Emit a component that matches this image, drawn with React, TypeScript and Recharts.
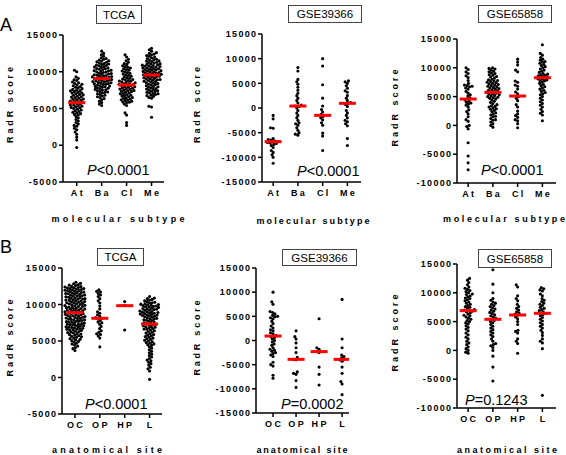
import React from 'react';
import { ScatterChart, Scatter, XAxis, YAxis } from 'recharts';

const W = 566;
const H = 455;
const FONT = "'Liberation Sans', Arial, Helvetica, sans-serif";

// ---------- categories ----------
const subtypeLabels = ['At', 'Ba', 'Cl', 'Me'];
const siteLabels = ['OC', 'OP', 'HP', 'L'];

// ---------- tick values ----------
const ticksTcga = [-5000, 0, 5000, 10000, 15000];
const ticks39366 = [-15000, -10000, -5000, 0, 5000, 10000, 15000];
const ticks65858 = [-10000, -5000, 0, 5000, 10000, 15000];

// ---------- A: TCGA, molecular subtype ----------
const aTcgaAt = [10200, 10000, 9300, 9100, 8900, 8800, 8600, 8500, 8400, 8300, 8200, 8100, 8000, 7900, 7800, 7700, 7600, 7500, 7450, 7400, 7300, 7200, 7150, 7100, 7000, 6900, 6850, 6800, 6700, 6600, 6550, 6500, 6400, 6300, 6250, 6200, 6100, 6000, 5950, 5900, 5800, 5750, 5700, 5600, 5500, 5450, 5400, 5300, 5200, 5150, 5100, 5000, 4900, 4800, 4700, 4600, 4500, 4400, 4300, 4200, 4100, 3900, 3700, 3500, 3300, 3100, 2900, 2700, 2600, 2300, 2100, 1800, 1500, 1100, 700, -300];
const aTcgaBa = [12800, 12500, 12300, 12100, 11900, 11800, 11700, 11600, 11500, 11450, 11350, 11300, 11200, 11100, 11050, 11000, 10900, 10850, 10800, 10700, 10650, 10600, 10500, 10450, 10400, 10350, 10300, 10200, 10150, 10100, 10050, 10000, 9950, 9900, 9800, 9750, 9700, 9650, 9600, 9550, 9500, 9450, 9400, 9350, 9300, 9250, 9200, 9150, 9100, 9050, 9000, 8950, 8900, 8850, 8800, 8750, 8700, 8650, 8600, 8550, 8500, 8450, 8400, 8350, 8300, 8250, 8200, 8100, 8050, 8000, 7950, 7900, 7800, 7750, 7700, 7600, 7550, 7500, 7400, 7300, 7250, 7200, 7100, 7000, 6900, 6800, 6700, 6600, 6500, 6350, 6200, 6000, 5800, 5600, 5400];
const aTcgaCl = [12300, 12000, 11700, 11500, 11300, 11100, 11000, 10800, 10700, 10600, 10500, 10400, 10300, 10200, 10100, 10000, 9900, 9800, 9700, 9600, 9500, 9400, 9300, 9200, 9100, 9000, 8950, 8900, 8800, 8750, 8700, 8600, 8550, 8500, 8400, 8350, 8300, 8250, 8200, 8150, 8100, 8000, 7950, 7900, 7800, 7750, 7700, 7650, 7600, 7500, 7450, 7400, 7350, 7300, 7200, 7100, 7050, 7000, 6900, 6800, 6750, 6700, 6600, 6500, 6450, 6400, 6300, 6200, 6150, 6100, 6000, 5900, 5850, 5800, 5600, 5400, 4400, 4100, 3100, 2700];
const aTcgaMe = [13200, 13000, 12800, 12600, 12500, 12400, 12300, 12200, 12100, 12000, 11900, 11800, 11700, 11650, 11600, 11500, 11450, 11400, 11300, 11250, 11200, 11100, 11050, 11000, 10950, 10900, 10850, 10800, 10750, 10700, 10650, 10600, 10550, 10500, 10450, 10400, 10350, 10300, 10250, 10200, 10150, 10100, 10050, 10000, 9950, 9900, 9850, 9800, 9750, 9700, 9650, 9600, 9550, 9500, 9450, 9400, 9350, 9300, 9250, 9200, 9100, 9050, 9000, 8950, 8900, 8850, 8800, 8700, 8650, 8600, 8500, 8450, 8400, 8300, 8250, 8200, 8100, 8000, 7950, 7900, 7800, 7700, 7650, 7600, 7500, 7400, 7350, 7300, 7200, 7100, 7050, 7000, 6900, 6800, 6750, 6650, 6500, 6400, 5300, 5200, 3800];
const aTcgaMedians = [5790, 9060, 8200, 9560];

// ---------- A: GSE39366, molecular subtype ----------
const a39366At = [-1500, -2200, -4000, -4100, -6200, -6400, -6500, -6700, -6800, -6900, -7000, -7100, -7200, -7400, -7600, -8000, -8600, -9000, -9500, -10000, -11200];
const a39366Ba = [8200, 7500, 5800, 5300, 4800, 4200, 3600, 3000, 2500, 2000, 1500, 1000, 600, 400, 300, 0, -500, -1000, -1500, -2000, -2500, -3000, -3200, -3500, -4000, -4500, -5000, -5300, -5500];
const a39366Cl = [10000, 8500, 4700, 2000, 400, -300, -800, -1300, -1700, -2000, -2400, -3000, -3500, -5100, -5700, -8600];
const a39366Me = [5500, 5300, 5000, 4500, 4000, 3500, 3200, 2500, 2000, 1500, 1100, 900, 700, 300, -500, -1000, -1500, -2000, -2500, -2800, -3200, -3600, -6200, -7600];
const a39366Medians = [-6830, 400, -1490, 950];

// ---------- A: GSE65858, molecular subtype ----------
const a65858At = [10000, 9700, 9300, 9000, 8600, 8300, 7800, 7300, 7000, 6900, 6800, 6700, 6500, 6300, 5900, 5600, 5300, 5100, 4800, 4600, 4400, 4200, 4000, 3900, 3700, 3500, 3200, 2700, 2400, 2000, 1500, 1000, 700, 0, -200, -600, -3000, -5300, -6500, -7700];
const a65858Ba = [10000, 9900, 9800, 9600, 9400, 9300, 9100, 9000, 8800, 8700, 8500, 8400, 8200, 8000, 7900, 7800, 7700, 7600, 7500, 7400, 7300, 7200, 7100, 7000, 6900, 6800, 6700, 6600, 6500, 6400, 6300, 6200, 6100, 6000, 5900, 5800, 5700, 5600, 5500, 5400, 5300, 5200, 5100, 5000, 4900, 4800, 4700, 4600, 4400, 4200, 4000, 3800, 3600, 3400, 3300, 3200, 3000, 2900, 2800, 2600, 2400, 2200, 2000, 1800, 1600, 1500, 1200, 1000, 900, 600, 300, 0, -300];
const a65858Cl = [11500, 11000, 10500, 9600, 9300, 7700, 7500, 7000, 6800, 6300, 5800, 5500, 5000, 4700, 4300, 3600, 3200, 2500, 2000, 1700, 1400, 1000, 800, 300, -400];
const a65858Me = [14000, 12500, 12200, 11800, 11500, 11300, 11100, 11000, 10800, 10600, 10400, 10200, 10000, 9800, 9600, 9400, 9200, 9000, 8900, 8800, 8700, 8600, 8500, 8400, 8300, 8200, 8100, 8000, 7900, 7800, 7700, 7500, 7300, 7100, 6900, 6700, 6500, 6300, 6100, 5900, 5700, 5500, 5300, 5000, 4700, 4400, 4100, 3800, 3500, 3200, 2800, 2400, 2100, 1800, 800];
const a65858Medians = [4580, 5750, 5100, 8280];

// ---------- B: TCGA, anatomical site ----------
const bTcgaOC = [13050, 12900, 12850, 12700, 12650, 12600, 12480, 12450, 12400, 12330, 12300, 12250, 12200, 12170, 12100, 12050, 12000, 11960, 11900, 11870, 11800, 11760, 11700, 11650, 11620, 11550, 11500, 11470, 11400, 11360, 11300, 11260, 11200, 11150, 11120, 11050, 11000, 10970, 10900, 10860, 10800, 10750, 10720, 10650, 10600, 10570, 10500, 10460, 10400, 10360, 10300, 10250, 10220, 10150, 10100, 10070, 10000, 9960, 9900, 9860, 9800, 9750, 9720, 9650, 9600, 9570, 9500, 9460, 9400, 9360, 9300, 9250, 9220, 9150, 9100, 9070, 9000, 8960, 8900, 8860, 8800, 8750, 8720, 8650, 8600, 8570, 8500, 8460, 8400, 8360, 8300, 8250, 8220, 8150, 8100, 8070, 8000, 7960, 7900, 7860, 7800, 7750, 7720, 7650, 7600, 7570, 7500, 7460, 7400, 7360, 7300, 7250, 7220, 7150, 7100, 7070, 7000, 6960, 6900, 6860, 6800, 6750, 6720, 6650, 6600, 6550, 6500, 6430, 6350, 6300, 6220, 6150, 6100, 6020, 5950, 5880, 5800, 5720, 5650, 5570, 5500, 5400, 5330, 5250, 5150, 5050, 4950, 4850, 4700, 4600, 4450, 4300, 4100, 3950, 3700];
const bTcgaOP = [12000, 11800, 11700, 11500, 11300, 11100, 10800, 10500, 10200, 9800, 9400, 9000, 8800, 8600, 8400, 8200, 8100, 8000, 7800, 7600, 7500, 7300, 7000, 6700, 6400, 6200, 6000, 5900, 5700, 5400, 4200];
const bTcgaHP = [10400, 9850, 6500];
const bTcgaL = [11100, 10900, 10800, 10700, 10600, 10500, 10400, 10300, 10250, 10200, 10100, 10050, 10000, 9950, 9900, 9850, 9800, 9750, 9700, 9650, 9600, 9500, 9450, 9400, 9350, 9300, 9250, 9200, 9100, 9050, 9000, 8950, 8900, 8850, 8800, 8750, 8700, 8650, 8600, 8550, 8500, 8450, 8400, 8300, 8250, 8200, 8100, 8050, 8000, 7900, 7850, 7800, 7700, 7600, 7500, 7450, 7400, 7300, 7250, 7200, 7100, 7000, 6950, 6900, 6800, 6700, 6650, 6600, 6500, 6400, 6300, 6200, 6100, 6000, 5900, 5800, 5700, 5600, 5500, 5400, 5300, 5200, 5100, 5000, 4900, 4800, 4700, 4600, 4500, 4400, 4200, 4000, 3800, 3600, 3400, 3200, 3000, 2800, 2600, 2400, 2300, 2100, 1900, 1700, 1400, 1200, 900, -250];
const bTcgaMedians = [8880, 8110, 9840, 7330];

// ---------- B: GSE39366, anatomical site ----------
const b39366OC = [10000, 8000, 7500, 6000, 5800, 5500, 5200, 5000, 4900, 4700, 4500, 4000, 3500, 3000, 2600, 2200, 2000, 1600, 1400, 1000, 800, 600, 300, 0, -300, -700, -1000, -1500, -1800, -2000, -2200, -2500, -2700, -3000, -3300, -4500, -5000, -5300, -7200, -7800];
const b39366OP = [2000, 800, 300, -500, -1500, -2500, -3500, -3900, -4000, -6500, -6800, -7000, -8300, -9700];
const b39366HP = [4500, -1500, -1800, -2300, -2500, -5500, -7000, -9200];
const b39366L = [8500, 300, -1500, -3000, -3300, -3600, -3900, -4000, -4300, -5500, -6800, -8500, -9000, -11200];
const b39366Medians = [930, -3900, -2300, -3900];

// ---------- B: GSE65858, anatomical site ----------
const b65858OC = [12500, 12200, 11800, 11400, 11000, 10800, 10600, 10400, 10200, 10000, 9800, 9700, 9500, 9300, 9100, 9000, 8800, 8600, 8400, 8200, 8000, 7800, 7600, 7500, 7300, 7100, 7000, 6900, 6800, 6700, 6500, 6300, 6100, 6000, 5800, 5600, 5400, 5200, 5000, 4800, 4600, 4300, 4000, 3700, 3400, 3000, 2700, 2300, 2000, 1600, 1300, 1000, 600, 300, 0, -300, -500];
const b65858OP = [14000, 11500, 10000, 9000, 8700, 8400, 8200, 8000, 7800, 7600, 7400, 7200, 7000, 6800, 6600, 6400, 6200, 6000, 5800, 5600, 5400, 5200, 5000, 4800, 4500, 4200, 3900, 3600, 3300, 3000, 2700, 2400, 2000, 1600, 1200, 1000, 800, 500, 0, -1000, -2900, -5300];
const b65858HP = [11400, 11000, 9500, 9000, 8600, 8000, 7600, 7300, 7000, 6700, 6500, 6300, 6100, 5800, 5500, 5000, 4500, 3500, 3300, 3000, 2000, 1600, 1200, -500];
const b65858L = [10900, 10700, 10500, 10300, 9800, 9500, 9000, 8700, 8500, 8200, 8000, 7800, 7500, 7300, 7100, 6900, 6700, 6500, 6400, 6200, 6000, 5700, 5400, 5100, 4800, 4500, 4200, 3900, 3500, 3100, 2600, 2000, 1600, 1300, 300, -7800];
const b65858Medians = [6900, 5400, 6150, 6440];

// ---------- panel layout ----------
type Panel = {
  groups: number[][];
  medians: number[];
  labels: string[];
  yDomain: [number, number];
  yTicks: number[];
  xDomain: [number, number];
  axisX: number;
  xEnd: number;
  yTop: number;
  yBot: number;
};

const panels: Panel[] = [
  { groups: [aTcgaAt, aTcgaBa, aTcgaCl, aTcgaMe], medians: aTcgaMedians, labels: subtypeLabels, yDomain: [-5000, 15000], yTicks: ticksTcga, xDomain: [-0.55, 3.5], axisX: 63, xEnd: 164, yTop: 35, yBot: 182 },
  { groups: [a39366At, a39366Ba, a39366Cl, a39366Me], medians: a39366Medians, labels: subtypeLabels, yDomain: [-15000, 15000], yTicks: ticks39366, xDomain: [-0.45, 3.55], axisX: 262, xEnd: 361, yTop: 34, yBot: 182 },
  { groups: [a65858At, a65858Ba, a65858Cl, a65858Me], medians: a65858Medians, labels: subtypeLabels, yDomain: [-10000, 15000], yTicks: ticks65858, xDomain: [-0.45, 3.55], axisX: 457, xEnd: 556, yTop: 39, yBot: 183 },
  { groups: [bTcgaOC, bTcgaOP, bTcgaHP, bTcgaL], medians: bTcgaMedians, labels: siteLabels, yDomain: [-5000, 15000], yTicks: ticksTcga, xDomain: [-0.52, 3.5], axisX: 62, xEnd: 162, yTop: 268, yBot: 414 },
  { groups: [b39366OC, b39366OP, b39366HP, b39366L], medians: b39366Medians, labels: siteLabels, yDomain: [-15000, 15000], yTicks: ticks39366, xDomain: [-0.74, 3.3], axisX: 256, xEnd: 349, yTop: 268, yBot: 413 },
  { groups: [b65858OC, b65858OP, b65858HP, b65858L], medians: b65858Medians, labels: siteLabels, yDomain: [-10000, 15000], yTicks: ticks65858, xDomain: [-0.45, 3.55], axisX: 457, xEnd: 556, yTop: 264, yBot: 408 },
];

// beeswarm layout: horizontal pixel offsets so dots do not overlap
function swarm(vals: number[], pxPerVal: number, d: number, maxHalf: number): number[] {
  const order = vals.map((_, i) => i).sort((a, b) => vals[a] - vals[b]);
  const placed: { x: number; y: number }[] = [];
  const out = new Array(vals.length).fill(0);
  for (const i of order) {
    const y = vals[i] * pxPerVal;
    const near = placed.filter((p) => Math.abs(p.y - y) < d);
    const ints = near.map((p) => {
      const w = Math.sqrt(d * d - (p.y - y) * (p.y - y));
      return [p.x - w, p.x + w];
    });
    const cands = [0];
    ints.forEach(([a, b]) => cands.push(a, b));
    const ok = (c: number) => ints.every(([a, b]) => c <= a + 1e-6 || c >= b - 1e-6);
    let best = Infinity;
    for (const c of cands) if (ok(c) && Math.abs(c) < Math.abs(best)) best = c;
    if (!(Math.abs(best) <= maxHalf)) {
      let bestScore = -1;
      best = 0;
      for (let c = -maxHalf; c <= maxHalf + 1e-9; c += 0.5) {
        const s = near.reduce((m, p) => Math.min(m, Math.hypot(p.x - c, p.y - y)), Infinity);
        if (s > bestScore) {
          bestScore = s;
          best = c;
        }
      }
    }
    placed.push({ x: best, y });
    out[i] = best;
  }
  return out;
}

const Dot = (props: any) => <circle cx={props.cx} cy={props.cy} r={1.55} fill="#000" />;
const MedianBar = (props: any) => (
  <rect x={props.cx - 8.5} y={props.cy - 1.5} width={17} height={3} fill="#ff0000" />
);

const YTick = (props: any) => (
  <text x={props.x} y={props.y} dx={1.3} dy={3.2} textAnchor="end" fontSize={9} fontWeight="bold" fontFamily={FONT} letterSpacing={1.3} fill="#000">
    {props.payload.value}
  </text>
);

function PanelChart({ p }: { p: Panel }) {
  const plotH = p.yBot - p.yTop;
  const plotW = p.xEnd - p.axisX;
  const pxPerUnitX = plotW / (p.xDomain[1] - p.xDomain[0]);
  const pxPerVal = plotH / (p.yDomain[1] - p.yDomain[0]);
  const points: { x: number; y: number }[] = [];
  p.groups.forEach((g, i) => {
    const offs = swarm(g, pxPerVal, 2.7, 10);
    g.forEach((v, j) => points.push({ x: i + offs[j] / pxPerUnitX, y: v }));
  });
  const meds = p.medians.map((m, i) => ({ x: i, y: m }));
  const axisStyle = { stroke: '#000', strokeWidth: 1.5 };
  const XTick = (props: any) => (
    <text x={props.x} y={props.y} dx={1.2} dy={7.5} textAnchor="middle" fontSize={9} fontWeight="bold" fontFamily={FONT} letterSpacing={2.4} fill="#000">
      {p.labels[props.payload.value]}
    </text>
  );
  return (
    <div style={{ position: 'absolute', left: 0, top: 0 }}>
      <ScatterChart
        width={W}
        height={H}
        margin={{ top: p.yTop, bottom: H - p.yBot - 30, left: p.axisX - 40, right: W - p.xEnd }}
      >
        <XAxis
          type="number"
          dataKey="x"
          domain={p.xDomain}
          ticks={[0, 1, 2, 3]}
          interval={0}
          allowDataOverflow
          height={30}
          tickSize={4}
          tickMargin={2}
          axisLine={axisStyle}
          tickLine={axisStyle}
          tick={XTick}
        />
        <YAxis
          type="number"
          dataKey="y"
          domain={p.yDomain}
          ticks={p.yTicks}
          interval={0}
          allowDataOverflow
          width={40}
          tickSize={4}
          tickMargin={2}
          axisLine={axisStyle}
          tickLine={axisStyle}
          tick={YTick}
        />
        <Scatter data={points} shape={Dot} isAnimationActive={false} />
        <Scatter data={meds} shape={MedianBar} isAnimationActive={false} />
      </ScatterChart>
    </div>
  );
}

// ---------- text annotations ----------
const titleBoxes = [
  { text: 'TCGA', x: 96, y: 5, w: 45, h: 18 },
  { text: 'GSE39366', x: 288, y: 5, w: 73, h: 17 },
  { text: 'GSE65858', x: 478, y: 5, w: 73, h: 17 },
  { text: 'TCGA', x: 97, y: 248, w: 46, h: 17 },
  { text: 'GSE39366', x: 282, y: 249, w: 74, h: 16 },
  { text: 'GSE65858', x: 478, y: 249, w: 73, h: 18 },
];
const pValues = [
  { op: '<0.0001', x: 87, y: 175 },
  { op: '<0.0001', x: 297, y: 176 },
  { op: '<0.0001', x: 481, y: 175 },
  { op: '<0.0001', x: 85, y: 409 },
  { op: '=0.0002', x: 281, y: 409 },
  { op: '=0.1243', x: 465, y: 405 },
];
const yTitles = [
  { x: 10, y: 105, len: 76 },
  { x: 197, y: 105, len: 76 },
  { x: 395, y: 108, len: 77 },
  { x: 10, y: 338, len: 77 },
  { x: 197, y: 338, len: 75 },
  { x: 395, y: 333, len: 77 },
];
const xTitles = [
  { text: 'molecular subtype', x: 118, y: 219, len: 133 },
  { text: 'molecular subtype', x: 313, y: 221, len: 113 },
  { text: 'molecular subtype', x: 504, y: 219, len: 122 },
  { text: 'anatomical site', x: 107, y: 450, len: 110 },
  { text: 'anatomical site', x: 302, y: 450, len: 91 },
  { text: 'anatomical site', x: 507, y: 450, len: 100 },
];

function Annotations() {
  return (
    <svg width={W} height={H} style={{ position: 'absolute', left: 0, top: 0, pointerEvents: 'none' }} fontFamily={FONT}>
      <text x={0} y={31} fontSize={18} fill="#000">A</text>
      <text x={0} y={253} fontSize={18} fill="#000">B</text>
      {titleBoxes.map((t, i) => (
        <g key={'t' + i}>
          <rect x={t.x + 0.5} y={t.y + 0.5} width={t.w} height={t.h} fill="#fff" stroke="#444" strokeWidth={1} />
          <text x={t.x + t.w / 2 + 0.5} y={t.y + t.h / 2 + 4.5} textAnchor="middle" fontSize={11.5} fill="#000">
            {t.text}
          </text>
        </g>
      ))}
      {pValues.map((p, i) => (
        <text key={'p' + i} x={p.x} y={p.y} fontSize={14.5} fill="#000">
          <tspan fontStyle="italic">P</tspan>
          {p.op}
        </text>
      ))}
      {yTitles.map((t, i) => (
        <text
          key={'y' + i}
          transform={`translate(${t.x},${t.y}) rotate(-90)`}
          textAnchor="middle"
          dominantBaseline="central"
          fontSize={9}
          fontWeight="bold"
          textLength={t.len}
          lengthAdjust="spacing"
          fill="#000"
        >
          RadR score
        </text>
      ))}
      {xTitles.map((t, i) => (
        <text
          key={'x' + i}
          x={t.x}
          y={t.y}
          textAnchor="middle"
          dominantBaseline="central"
          fontSize={9}
          fontWeight="bold"
          textLength={t.len}
          lengthAdjust="spacing"
          fill="#000"
        >
          {t.text}
        </text>
      ))}
    </svg>
  );
}

export default function App() {
  return (
    <div style={{ position: 'absolute', left: 0, top: 0, width: W, height: H, background: '#fff', overflow: 'hidden' }}>
      {panels.map((p, i) => (
        <PanelChart key={i} p={p} />
      ))}
      <Annotations />
    </div>
  );
}
